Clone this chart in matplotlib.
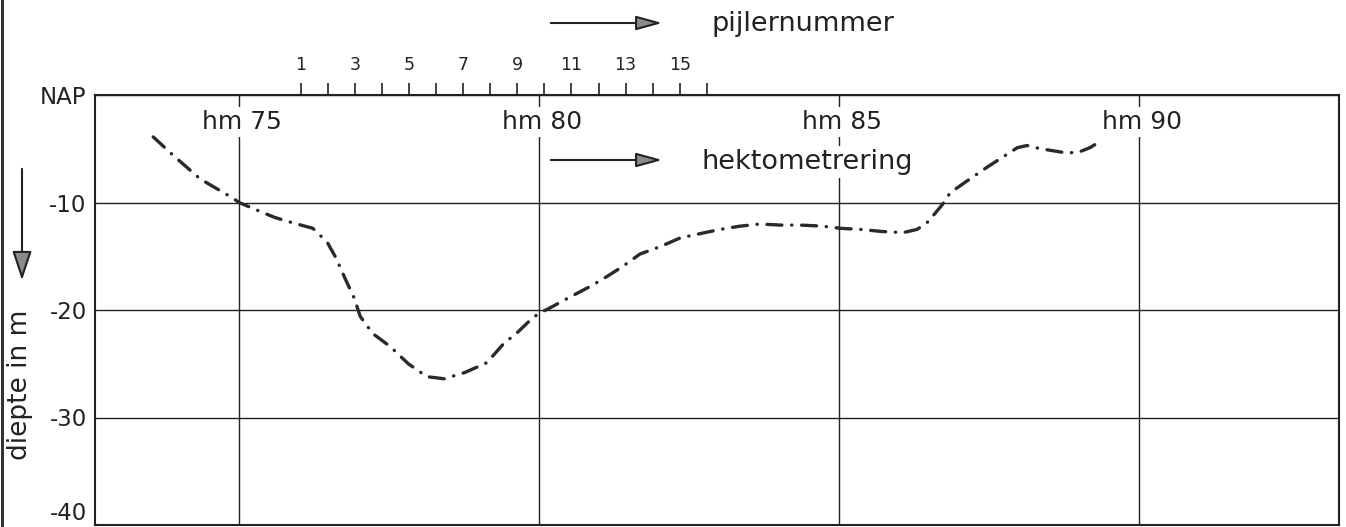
import numpy as np
import matplotlib
matplotlib.use("Agg")
import matplotlib.pyplot as plt
from matplotlib.lines import Line2D

# bottom profile along the bridge: hectometre position vs depth below NAP (m)
hm = [73.57, 73.90, 74.35, 74.90, 75.00, 75.38, 75.60, 75.90, 76.23, 76.47,
      76.62, 76.77, 76.92, 77.02, 77.23, 77.52, 77.82, 78.13, 78.42, 78.77,
      79.13, 79.43, 79.60, 79.88, 80.00, 80.15, 80.48, 80.82, 81.07, 81.38,
      81.68, 82.02, 82.35, 82.68, 83.02, 83.35, 83.68, 84.02, 84.35, 84.72,
      85.02, 85.35, 85.72, 86.07, 86.30, 86.48, 86.60, 86.72, 86.85, 87.13,
      87.47, 87.72, 87.97, 88.13, 88.27, 88.47, 88.80, 89.00, 89.18, 89.38]
depth = [-3.9, -5.6, -7.8, -9.6, -10.0, -10.9, -11.4, -11.9, -12.4, -13.7,
         -15.2, -17.1, -18.9, -20.6, -22.2, -23.4, -25.0, -26.2, -26.4, -25.8,
         -24.9, -23.0, -22.3, -20.8, -20.3, -19.9, -18.9, -17.9, -17.1, -16.0,
         -14.8, -14.1, -13.3, -12.9, -12.5, -12.2, -12.0, -12.1, -12.1, -12.2,
         -12.4, -12.5, -12.7, -12.8, -12.5, -11.8, -11.0, -10.2, -9.1, -8.0,
         -6.7, -5.8, -4.9, -4.7, -4.9, -5.1, -5.4, -5.3, -4.9, -4.2]

hm_marks = [75, 80, 85, 90]
hm_labels = ["hm 75", "hm 80", "hm 85", "hm 90"]
depth_ticks = [0, -10, -20, -30, -40]
depth_labels = ["NAP", "-10", "-20", "-30", "-40"]
piers = list(range(1, 17))

# pier 1 sits at hm 76.03, piers spaced 0.451 hm apart
PIER_START = 76.03
PIER_STEP = 0.451

W, H = 1346, 527
INK = "#222222"


def hm_to_pier(x):
    return (np.asarray(x) - PIER_START) / PIER_STEP + 1


def pier_to_hm(p):
    return (np.asarray(p) - 1) * PIER_STEP + PIER_START


def main():
    fig = plt.figure(figsize=(W / 100, H / 100), dpi=100)
    ax = fig.add_axes([95 / W, 2 / H, (1339 - 95) / W, (525 - 95) / H])

    ax.set_xlim(72.6, 93.33)
    ax.set_ylim(-40, 0)
    for s in ax.spines.values():
        s.set_linewidth(1.5)
        s.set_color(INK)

    ax.set_xticks(hm_marks)
    ax.set_yticks(depth_ticks, labels=depth_labels)
    ax.tick_params(axis="x", length=0, labelbottom=False)
    ax.tick_params(axis="y", length=0, pad=6, labelsize=16.5, labelcolor=INK)
    # bottom label sits just above the lower edge
    ax.get_yticklabels()[-1].set_verticalalignment("bottom")
    ax.grid(True, color=INK, lw=1.0)

    # profile line, dash-dot
    line, = ax.plot(hm, depth, color="#2a2a2a", lw=2.4, zorder=3,
                    dash_capstyle="round")
    line.set_dashes([4.5, 2.9, 0.1, 2.9])

    for x, lab in zip(hm_marks, hm_labels):
        ax.text(x + 0.05, -2.5, lab, ha="center", va="center", fontsize=18,
                color=INK, zorder=4,
                bbox=dict(facecolor="white", edgecolor="none", pad=2))

    # pier numbers along the top edge
    sec = ax.secondary_xaxis("top", functions=(hm_to_pier, pier_to_hm))
    sec.set_xticks(piers, labels=[str(p) if p % 2 else "" for p in piers])
    sec.tick_params(direction="out", length=9, width=1.2, pad=6,
                    labelsize=12.5, color=INK, labelcolor=INK)
    sec.spines["top"].set_visible(False)

    arrow = dict(arrowstyle="-|>,head_length=0.8,head_width=0.22",
                 mutation_scale=20, lw=1.5, color=INK, fc="#8a8a8a")
    ax.annotate("", xy=(665 / W, 1 - 23 / H), xytext=(548 / W, 1 - 23 / H),
                xycoords="figure fraction", arrowprops=arrow)
    fig.text(712 / W, 1 - 24 / H, "pijlernummer", ha="left", va="center",
             fontsize=19.5, color=INK)

    ax.annotate("", xy=(665 / W, 1 - 160 / H), xytext=(548 / W, 1 - 160 / H),
                xycoords="figure fraction", arrowprops=arrow)
    fig.text(702 / W, 1 - 162 / H, "hektometrering", ha="left", va="center",
             fontsize=19.5, color=INK,
             bbox=dict(facecolor="white", edgecolor="none", pad=2))

    # depth axis title with downward arrow
    down = dict(arrowstyle="-|>,head_length=0.9,head_width=0.3",
                mutation_scale=20, lw=1.5, color=INK, fc="#8a8a8a")
    ax.annotate("", xy=(22 / W, 1 - 283 / H), xytext=(22 / W, 1 - 166 / H),
                xycoords="figure fraction", arrowprops=down)
    fig.text(20 / W, 1 - 385 / H, "diepte in m", rotation=90, ha="center",
             va="center", fontsize=19, color=INK)

    # sheet edge
    fig.add_artist(Line2D([1.5 / W, 1.5 / W], [0, 1], lw=2.2, color="#333333"))

    fig.savefig("out.png", dpi=100)


if __name__ == '__main__':
    main()
